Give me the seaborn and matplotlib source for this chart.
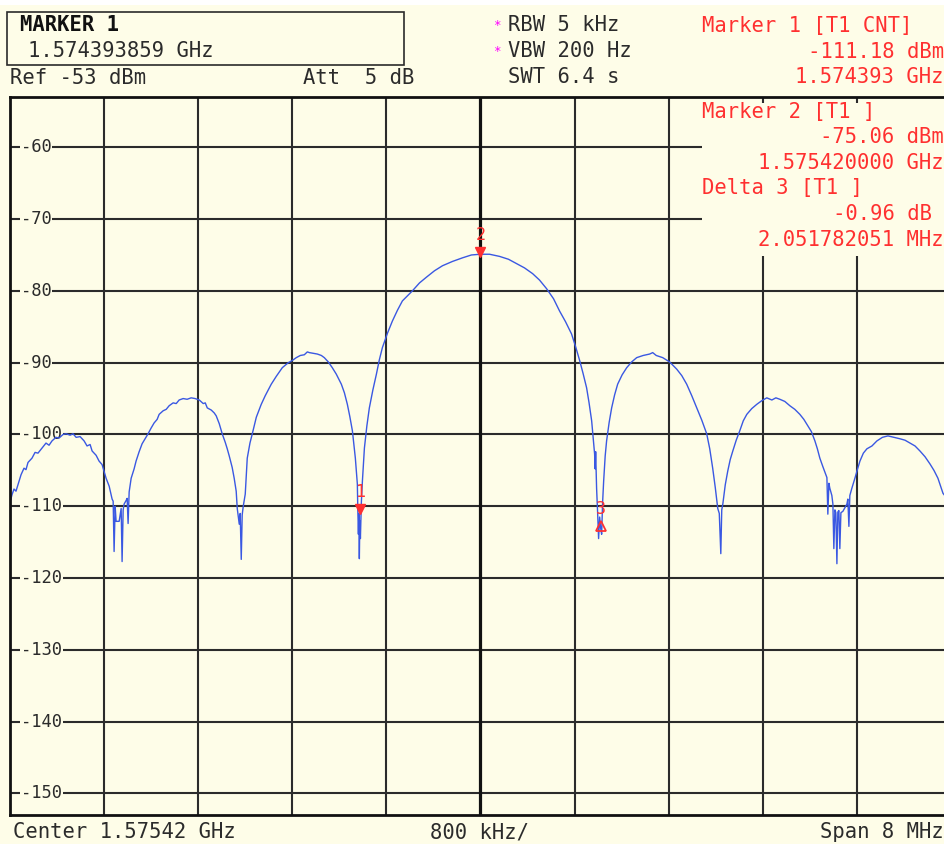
import matplotlib
matplotlib.use("Agg")
import matplotlib.pyplot as plt
import seaborn as sns
import pandas as pd
from matplotlib.patches import Rectangle

# spectrum analyzer trace, frequency offset from center (MHz) and level (dBm)
freq_mhz = [
    -4.000, -3.983, -3.966, -3.949, -3.923, -3.906, -3.881, -3.864, -3.847, -3.813,
    -3.787, -3.762, -3.728, -3.694, -3.668, -3.643, -3.609, -3.583, -3.549, -3.523,
    -3.489, -3.464, -3.438, -3.404, -3.370, -3.345, -3.319, -3.302, -3.268, -3.243,
    -3.217, -3.183, -3.157, -3.132, -3.123, -3.115, -3.106, -3.098, -3.072, -3.055,
    -3.047, -3.038, -3.030, -3.013, -3.004, -2.996, -2.987, -2.970, -2.945, -2.928,
    -2.902, -2.877, -2.851, -2.826, -2.800, -2.775, -2.749, -2.732, -2.698, -2.672,
    -2.647, -2.613, -2.587, -2.562, -2.528, -2.494, -2.460, -2.426, -2.391, -2.357,
    -2.340, -2.323, -2.289, -2.264, -2.247, -2.221, -2.196, -2.170, -2.153, -2.136,
    -2.111, -2.094, -2.077, -2.068, -2.051, -2.043, -2.034, -2.026, -2.017, -2.000,
    -1.983, -1.960, -1.940, -1.906, -1.864, -1.830, -1.779, -1.736, -1.685, -1.634,
    -1.600, -1.566, -1.532, -1.498, -1.472, -1.455, -1.421, -1.387, -1.353, -1.328,
    -1.294, -1.260, -1.226, -1.183, -1.157, -1.132, -1.111, -1.089, -1.064, -1.047,
    -1.043, -1.038, -1.034, -1.030, -1.026, -1.021, -1.013, -1.004, -0.987, -0.966,
    -0.945, -0.915, -0.885, -0.860, -0.834, -0.791, -0.749, -0.706, -0.664, -0.621,
    -0.579, -0.519, -0.460, -0.391, -0.323, -0.238, -0.153, -0.077, 0.000,
    0.077, 0.162, 0.238, 0.306, 0.374, 0.443, 0.502, 0.562, 0.621, 0.672,
    0.723, 0.774, 0.809, 0.843, 0.872, 0.902, 0.923, 0.945, 0.970, 0.975,
    0.979, 0.987, 0.996, 1.004, 1.013, 1.021, 1.030, 1.038, 1.047, 1.060,
    1.072, 1.094, 1.115, 1.140, 1.166, 1.204, 1.243, 1.285, 1.328, 1.383,
    1.438, 1.464, 1.494, 1.549, 1.608, 1.668, 1.711, 1.753, 1.796, 1.838,
    1.881, 1.923, 1.949, 1.974, 1.996, 2.017, 2.030, 2.043, 2.051, 2.060,
    2.081, 2.102, 2.123, 2.145, 2.174, 2.204, 2.234, 2.264, 2.306, 2.349,
    2.391, 2.434, 2.477, 2.511, 2.545, 2.587, 2.630, 2.672, 2.715, 2.749,
    2.783, 2.813, 2.843, 2.864, 2.885, 2.911, 2.936, 2.945, 2.953, 2.962,
    2.970, 2.987, 2.996, 3.004, 3.013, 3.021, 3.030, 3.038, 3.047, 3.055,
    3.064, 3.081, 3.098, 3.115, 3.123, 3.132, 3.140, 3.157, 3.183, 3.204,
    3.226, 3.255, 3.285, 3.328, 3.370, 3.417, 3.464, 3.515, 3.566, 3.609,
    3.651, 3.694, 3.736, 3.779, 3.821, 3.855, 3.889, 3.932, 3.966, 4.000,
]
level_dbm = [
    -109.5, -108.4, -107.6, -107.9, -106.5, -105.6, -104.7, -104.9, -103.9, -103.3,
    -102.5, -102.6, -101.9, -101.2, -101.5, -100.9, -100.4, -100.5, -100.0, -99.9,
    -100.1, -99.9, -100.4, -100.3, -100.9, -101.6, -101.4, -102.3, -102.9, -103.7,
    -104.2, -106.1, -107.2, -109.0, -109.3, -116.3, -110.0, -112.1, -112.1, -110.3,
    -117.7, -110.5, -109.7, -109.2, -108.9, -112.4, -108.0, -106.1, -104.8, -103.7,
    -102.4, -101.3, -100.6, -99.9, -99.1, -98.4, -97.9, -97.2, -96.7, -96.5,
    -96.0, -95.6, -95.7, -95.2, -95.0, -95.1, -94.9, -95.0, -95.2, -95.7,
    -95.6, -96.3, -96.6, -97.0, -97.4, -98.5, -99.9, -101.1, -102.0, -103.0,
    -104.6, -106.1, -107.9, -110.3, -112.5, -111.0, -117.4, -111.2, -110.0, -108.3,
    -103.3, -101.2, -99.9, -97.6, -95.8, -94.6, -93.0, -91.9, -90.7, -90.0,
    -89.7, -89.3, -89.0, -88.9, -88.5, -88.6, -88.7, -88.8, -89.0, -89.3,
    -89.9, -90.7, -91.6, -93.0, -94.2, -95.8, -97.5, -99.5, -103.3, -106.9,
    -110.5, -113.9, -111.0, -117.3, -112.0, -114.5, -109.5, -106.5, -101.9, -98.8,
    -96.3, -93.8, -91.6, -89.6, -87.9, -85.9, -84.2, -82.7, -81.4, -80.7,
    -80.0, -78.9, -78.1, -77.2, -76.5, -75.9, -75.4, -75.0, -74.9,
    -74.9, -75.2, -75.6, -76.2, -76.8, -77.6, -78.5, -79.7, -81.1, -82.8,
    -84.3, -86.0, -87.8, -89.7, -91.5, -93.5, -95.6, -98.1, -102.7, -104.8,
    -102.4, -107.5, -111.0, -114.5, -111.5, -113.0, -113.9, -109.5, -106.5, -103.0,
    -100.9, -98.3, -96.3, -94.5, -93.0, -91.7, -90.7, -89.9, -89.3, -89.0,
    -88.8, -88.6, -89.0, -89.3, -89.9, -90.9, -91.8, -93.0, -94.6, -96.3,
    -98.0, -99.9, -102.0, -104.7, -107.4, -110.3, -111.0, -116.6, -110.5, -109.7,
    -107.0, -105.1, -103.5, -102.3, -100.8, -99.5, -98.1, -97.2, -96.4, -95.8,
    -95.3, -94.9, -95.2, -94.9, -95.1, -95.4, -96.0, -96.5, -97.2, -97.9,
    -98.8, -99.6, -100.9, -102.0, -103.3, -104.5, -105.6, -106.0, -111.1, -106.8,
    -107.5, -108.5, -109.7, -115.9, -110.5, -110.9, -118.0, -110.8, -110.6, -115.9,
    -110.9, -110.7, -110.2, -109.7, -109.0, -112.8, -108.5, -107.5, -106.1, -104.9,
    -103.7, -102.6, -102.0, -101.6, -100.9, -100.4, -100.2, -100.4, -100.6, -100.8,
    -101.2, -101.6, -102.3, -103.1, -104.1, -105.0, -106.1, -108.2, -108.9, -109.5,
]

grid_levels = [-60, -70, -80, -90, -100, -110, -120, -130, -140, -150]
grid_freqs = [-3.2, -2.4, -1.6, -0.8, 0.0, 0.8, 1.6, 2.4, 3.2]

# markers: freq offset MHz, level dBm
marker_f = [-1.026, 0.0, 1.026]
marker_lvl = [-110.4, -74.6, -112.8]
marker_names = ["1", "2", "3"]

CREAM = "#fefde8"
INK = "#2b2b2b"
RED = "#ff3030"
BLUE = "#3a58e2"

sns.set_style("white", rc={"axes.facecolor": CREAM, "figure.facecolor": CREAM})
plt.rcParams["font.family"] = ["DejaVu Sans Mono", "DejaVu Sans"]

W, H = 945, 844
fig = plt.figure(figsize=(W / 100, H / 100), dpi=100)


def px(x, y):
    return x / W, 1 - y / H


# white strip at the very top
fig.patches.append(Rectangle((0, 1 - 5 / H), 1, 5 / H, transform=fig.transFigure,
                             facecolor="white", edgecolor="none", zorder=0))

ax = fig.add_axes([10 / W, (H - 815) / H, 941 / W, 718 / H])
ax.set_xlim(-4, 4)
ax.set_ylim(-153, -53)
ax.set_xticks([])
ax.set_yticks([])
for s in ax.spines.values():
    s.set_color("#111111")
    s.set_linewidth(2.0)
    s.set_zorder(5)

for v in grid_levels:
    ax.axhline(v, color=INK, lw=1.5, zorder=1)
for f in grid_freqs:
    ax.axvline(f, color="#111111" if f == 0 else INK, lw=2.3 if f == 0 else 1.5, zorder=1)

# box for marker readouts over the top-right of the grid
ax.add_patch(Rectangle((1.88, -75.2), 2.3, 21.4, facecolor=CREAM, edgecolor="none", zorder=1.5))

for v in grid_levels:
    ax.text(-3.906, v, str(v), ha="left", va="center", fontsize=12.3, color=INK, zorder=3,
            bbox=dict(facecolor=CREAM, edgecolor="none", pad=0.5))

df = pd.DataFrame({"freq": freq_mhz, "level": level_dbm})
sns.lineplot(data=df, x="freq", y="level", sort=False, estimator=None,
             color=BLUE, lw=1.0, ax=ax, zorder=4)
ax.set_xlabel("")
ax.set_ylabel("")

ax.plot(marker_f[0], marker_lvl[0], marker="v", color=RED, ms=7, zorder=6)
ax.plot(marker_f[1], marker_lvl[1], marker="v", color=RED, ms=7, zorder=6)
ax.plot(marker_f[2], marker_lvl[2], marker="^", mfc="none", mec=RED, mew=1.3, ms=7, zorder=6)
for name, f, v in zip(marker_names, marker_f, marker_lvl):
    ax.text(f, v + 2.4, name, ha="center", va="center", fontsize=12, color=RED, zorder=6)

# header
fig.patches.append(Rectangle(px(7, 65), 397 / W, 53 / H, transform=fig.transFigure,
                             facecolor="none", edgecolor=INK, lw=1.2))
fs = 14.8
fig.text(*px(20, 25), "MARKER 1", fontsize=fs, weight="bold", color="#111111", va="center")
fig.text(*px(28, 51), "1.574393859 GHz", fontsize=fs, color=INK, va="center")
fig.text(*px(10, 78), "Ref -53 dBm", fontsize=fs, color=INK, va="center")
fig.text(*px(303, 78), "Att  5 dB", fontsize=fs, color=INK, va="center")

fig.text(*px(497, 26), "*", fontsize=9, color="#ff00ff", va="center", ha="center")
fig.text(*px(497, 52), "*", fontsize=9, color="#ff00ff", va="center", ha="center")
fig.text(*px(508, 25), "RBW 5 kHz", fontsize=fs, color=INK, va="center")
fig.text(*px(508, 51), "VBW 200 Hz", fontsize=fs, color=INK, va="center")
fig.text(*px(508, 77), "SWT 6.4 s", fontsize=fs, color=INK, va="center")

fig.text(*px(702, 26), "Marker 1 [T1 CNT]", fontsize=fs, color=RED, va="center")
fig.text(*px(944, 52), "-111.18 dBm", fontsize=fs, color=RED, va="center", ha="right")
fig.text(*px(944, 77), "1.574393 GHz", fontsize=fs, color=RED, va="center", ha="right")
fig.text(*px(702, 112), "Marker 2 [T1 ]", fontsize=fs, color=RED, va="center")
fig.text(*px(944, 137), "-75.06 dBm", fontsize=fs, color=RED, va="center", ha="right")
fig.text(*px(944, 163), "1.575420000 GHz", fontsize=fs, color=RED, va="center", ha="right")
fig.text(*px(702, 188), "Delta 3 [T1 ]", fontsize=fs, color=RED, va="center")
fig.text(*px(944, 214), "-0.96 dB ", fontsize=fs, color=RED, va="center", ha="right")
fig.text(*px(944, 240), "2.051782051 MHz", fontsize=fs, color=RED, va="center", ha="right")

# footer
fig.text(*px(13, 832), "Center 1.57542 GHz", fontsize=fs, color=INK, va="center")
fig.text(*px(430, 832), "800 kHz/", fontsize=fs, color=INK, va="center")
fig.text(*px(944, 832), "Span 8 MHz", fontsize=fs, color=INK, va="center", ha="right")

fig.savefig("out.png", dpi=100, facecolor=CREAM)
